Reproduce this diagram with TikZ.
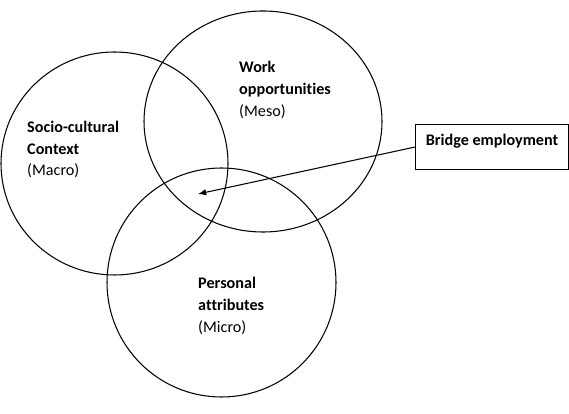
\documentclass[tikz,border=0pt]{standalone}
\usepackage{fontspec}
\setmainfont{Carlito}[Ligatures=NoCommon]
\usetikzlibrary{arrows.meta}

\tikzset{>={Latex[length=7pt, width=5.5pt]},
         ring/.style={draw, line width=0.9pt},
         lbl/.style={anchor=base west, align=left, inner sep=0pt, font=\fontsize{13.8pt}{18.5pt}\selectfont},
         box/.style={draw, line width=0.9pt, minimum width=4.59cm, inner xsep=0.3cm, inner ysep=0pt,
                     text height=0.63cm, text depth=0.72cm, font=\fontsize{13.8pt}{18.5pt}\selectfont\bfseries}}

\begin{document}
\begin{tikzpicture}
            \useasboundingbox (0,0) rectangle (17.07,12.42);

            \draw[ring] ( 3.435,  7.515) ellipse (3.405 and 3.345);
            \draw[ring] ( 7.890,  8.775) ellipse (3.570 and 3.315);
            \draw[ring] ( 6.645,  3.945) ellipse (3.435 and 3.435);

            % base anchor sits on the last line
            \node[lbl] at ( 0.81,  7.14) (macro) {\textbf{Socio-cultural}\\\textbf{Context}\\(Macro)};
            \node[lbl] at ( 7.17,  8.93) (meso)  {\textbf{Work}\\\textbf{opportunities}\\(Meso)};
            \node[lbl] at ( 5.94,  2.45) (micro) {\textbf{Personal}\\\textbf{attributes}\\(Micro)};

            \node[box, anchor=north west] at (12.45,  8.70) (bridge) {Bridge employment};

            \coordinate (overlap) at ( 5.94,  6.60);

            \draw[->, line width=0.9pt]
                   (bridge.west)
                -- (overlap);
        \end{tikzpicture}
\end{document}
